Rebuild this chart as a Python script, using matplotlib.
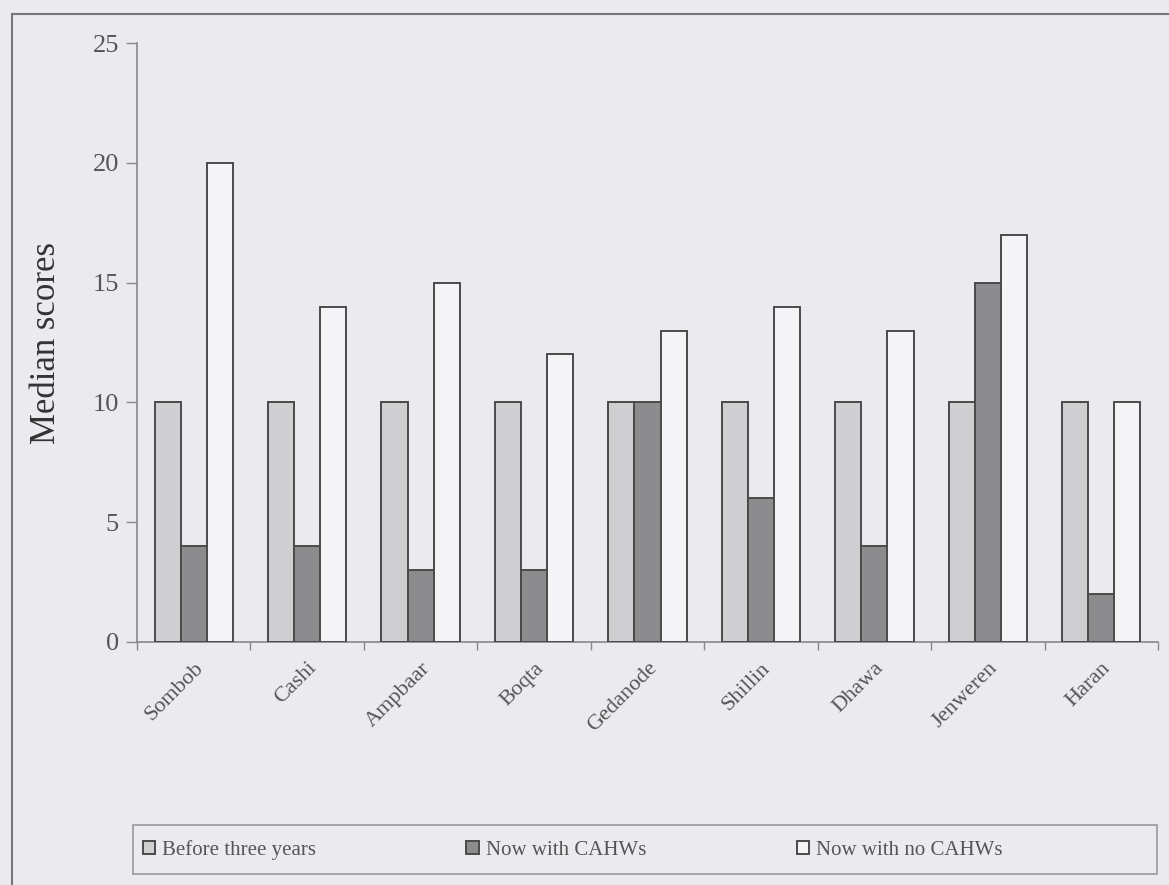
import numpy as np
import matplotlib
matplotlib.use("Agg")
import matplotlib.pyplot as plt
from matplotlib.lines import Line2D
from matplotlib.patches import Rectangle

# data
villages = ['Sombob', 'Cashi', 'Ampbaar', 'Boqta', 'Gedanode',
            'Shillin', 'Dhawa', 'Jenweren', 'Haran']
before_three_years = [10, 10, 10, 10, 10, 10, 10, 10, 10]
now_with_cahws = [4, 4, 3, 3, 10, 6, 4, 15, 2]
now_no_cahws = [20, 14, 15, 12, 13, 14, 13, 17, 10]
series_names = ['Before three years', 'Now with CAHWs', 'Now with no CAHWs']

plt.rcParams['font.family'] = ['Liberation Serif', 'DejaVu Serif']

bg = '#ebebef'
edge = '#4a4a4a'
colors = ['#cfcfd1', '#8c8c8e', '#f4f4f6']

fig = plt.figure(figsize=(11.69, 8.85), dpi=100, facecolor=bg)
W, H = 1169, 885
# axes box in pixels: left 137, right 1158, top 43, bottom 642
ax = fig.add_axes([137 / W, 1 - 642 / H, (1158 - 137) / W, (642 - 43) / H])
ax.set_facecolor(bg)

x = np.arange(len(villages)) + 0.5
w = 0.23
for k, vals in enumerate([before_three_years, now_with_cahws, now_no_cahws]):
    ax.bar(x + (k - 1) * w, vals, width=w, color=colors[k],
           edgecolor=edge, linewidth=1.4, label=series_names[k], zorder=3)

ax.set_xlim(0, len(villages))
ax.set_ylim(0, 25)
ax.set_yticks([0, 5, 10, 15, 20, 25])
ax.tick_params(axis='y', labelsize=19, colors='#888888', labelcolor='#555555',
               length=8, width=1, pad=5)

# ticks sit on the category boundaries, labels at the centres
ax.set_xticks(np.arange(len(villages) + 1))
ax.set_xticklabels([])
ax.set_xticks(x, minor=True)
ax.set_xticklabels(villages, minor=True, rotation=45, ha='right',
                   rotation_mode='anchor', fontsize=16, color='#555555')
ax.tick_params(axis='x', which='major', length=6, width=1, colors='#888888')
ax.tick_params(axis='x', which='minor', length=0, pad=12)

for s in ['top', 'right']:
    ax.spines[s].set_visible(False)
for s in ['left', 'bottom']:
    ax.spines[s].set_color('#888888')
    ax.spines[s].set_linewidth(1.2)

ax.set_ylabel('Median scores', fontsize=25, color='#333333')
ax.yaxis.set_label_coords(-74 / (1158 - 137), 0.5)

# outer frame of the figure (top and left edges visible in the scan)
fig.add_artist(Line2D([12 / W, 1.0], [1 - 14 / H, 1 - 14 / H],
                      transform=fig.transFigure, color='#777777', lw=1.5))
fig.add_artist(Line2D([12 / W, 12 / W], [0.0, 1 - 14 / H],
                      transform=fig.transFigure, color='#777777', lw=1.5))

# legend box
fig.add_artist(Rectangle((133 / W, 1 - 874 / H), (1157 - 133) / W, 49 / H,
                         transform=fig.transFigure, facecolor=bg,
                         edgecolor='#999999', lw=1.2))
handles, labels = ax.get_legend_handles_labels()
leg = fig.legend(handles, labels, loc='center left', ncol=3,
                 bbox_to_anchor=(128 / W, 1 - 850 / H),
                 fontsize=15, frameon=False, handlelength=0.6,
                 handleheight=0.6, handletextpad=0.35, columnspacing=7.2,
                 borderpad=0.2, labelcolor='#555555')

fig.savefig('out.png', dpi=100, facecolor=bg)
